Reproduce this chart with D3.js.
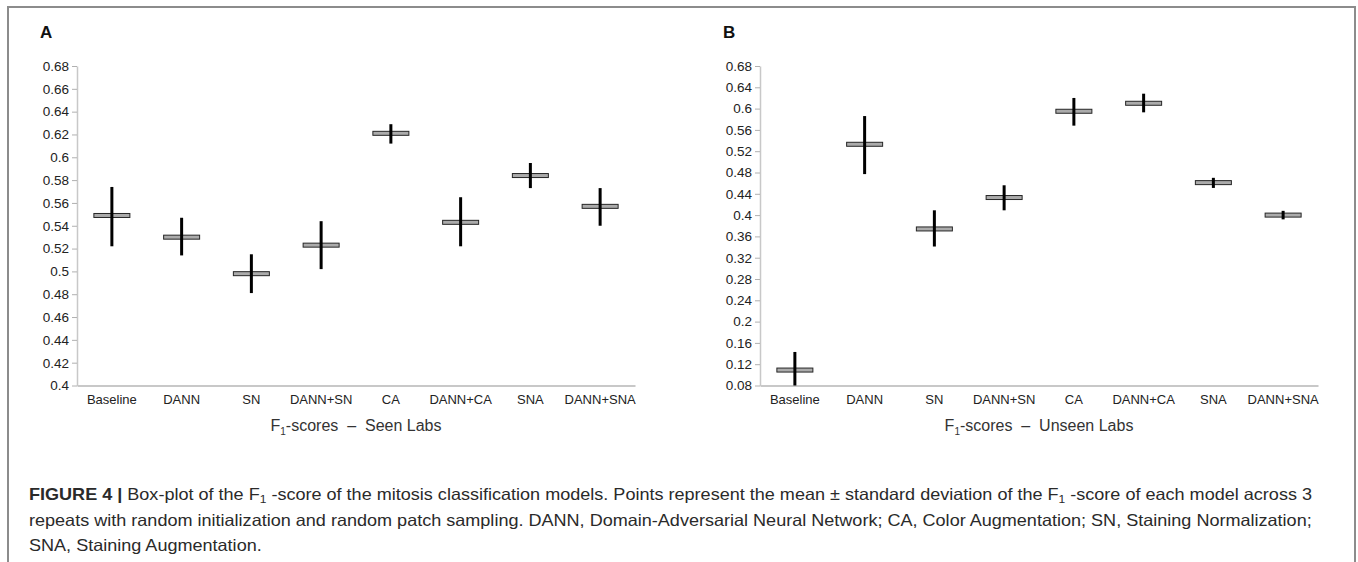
<!DOCTYPE html>
<html>
<head>
<meta charset="utf-8">
<script src="https://cdn.jsdelivr.net/npm/d3@7"></script>
<style>
  body { margin: 0; background: #fff; }
  svg { display: block; font-family: "Liberation Sans", Arial, sans-serif; }
</style>
</head>
<body>
<script>
// categories shared by both panels
const models = ["Baseline", "DANN", "SN", "DANN+SN", "CA", "DANN+CA", "SNA", "DANN+SNA"]

// panel A - seen labs (mean, mean-sd, mean+sd)
const seenMean = [0.549, 0.530, 0.498, 0.523, 0.621, 0.543, 0.584, 0.557]
const seenLow  = [0.522, 0.514, 0.481, 0.502, 0.612, 0.522, 0.573, 0.540]
const seenHigh = [0.574, 0.547, 0.515, 0.544, 0.629, 0.565, 0.595, 0.573]
const seenTicks = [0.4, 0.42, 0.44, 0.46, 0.48, 0.5, 0.52, 0.54, 0.56, 0.58, 0.6, 0.62, 0.64, 0.66, 0.68]

// panel B - unseen labs
const unseenMean = [0.109, 0.533, 0.374, 0.433, 0.595, 0.610, 0.461, 0.400]
const unseenLow  = [0.080, 0.477, 0.341, 0.409, 0.568, 0.593, 0.451, 0.392]
const unseenHigh = [0.143, 0.586, 0.409, 0.456, 0.620, 0.628, 0.470, 0.408]
const unseenTicks = [0.08, 0.12, 0.16, 0.2, 0.24, 0.28, 0.32, 0.36, 0.4, 0.44, 0.48, 0.52, 0.56, 0.6, 0.64, 0.68]

let svg = d3.select('body')
    .append('svg')
    .attr('width', 1358)
    .attr('height', 562)

// outer frame
svg.append('rect')
    .attr('x', 8)
    .attr('y', 7)
    .attr('width', 1347)
    .attr('height', 600)
    .style('fill', 'none')
    .style('stroke', '#8c8c8c')
    .style('stroke-width', 2)

function drawPanel(letter, left, right, yDomain, ticks, mean, low, high, labsText){
  let top = 66, bottom = 385.5
  let x = d3.scaleBand().domain(models).range([left, right])
  let y = d3.scaleLinear().domain(yDomain).range([bottom, top])
  let g = svg.append('g')

  g.append('text')
      .attr('x', left - 37)
      .attr('y', 38)
      .style('font-size', '17px')
      .style('font-weight', 'bold')
      .style('fill', '#111')
      .text(letter)

  // y axis
  let ya = g.append('g')
      .attr('transform', `translate(${left},0)`)
      .call(d3.axisLeft(y).tickValues(ticks).tickFormat(d3.format('~g')).tickSize(5).tickSizeOuter(0))
  ya.select('.domain').style('stroke', '#c8c8c8').style('stroke-width', 1.5)
  ya.selectAll('.tick line').style('stroke', '#b0b0b0')
  ya.selectAll('.tick text')
      .attr('x', -8)
      .style('font-size', '13.5px')
      .style('fill', '#222')
      .style('font-family', '"Liberation Sans", Arial, sans-serif')

  // x axis
  let xa = g.append('g')
      .attr('transform', `translate(0,${bottom})`)
      .call(d3.axisBottom(x).tickSize(0).tickSizeOuter(0))
  xa.select('.domain').style('stroke', '#c8c8c8').style('stroke-width', 2)
  xa.selectAll('.tick text')
      .attr('y', 9)
      .style('font-size', '13px')
      .style('fill', '#222')
      .style('font-family', '"Liberation Sans", Arial, sans-serif')

  // markers
  let idx = d3.range(models.length)
  let cx = i => x(models[i]) + x.bandwidth() / 2
  g.selectAll('rect.box')
      .data(idx)
      .join('rect')
      .attr('class', 'box')
      .attr('x', i => cx(i) - 18)
      .attr('y', i => y(mean[i]) - 2)
      .attr('width', 36)
      .attr('height', 4)
      .style('fill', '#ababab')
      .style('stroke', '#262626')
      .style('stroke-width', 1)
  g.selectAll('line.whisker')
      .data(idx)
      .join('line')
      .attr('class', 'whisker')
      .attr('x1', cx)
      .attr('x2', cx)
      .attr('y1', i => y(high[i]))
      .attr('y2', i => y(low[i]))
      .style('stroke', '#000')
      .style('stroke-width', 3)

  // axis title with subscript
  let t = g.append('text')
      .attr('x', (left + right) / 2)
      .attr('y', 431)
      .attr('text-anchor', 'middle')
      .style('font-size', '16px')
      .style('fill', '#333')
  t.append('tspan').text('F')
  t.append('tspan').attr('dy', 4).style('font-size', '10px').text('1')
  t.append('tspan').attr('dy', -4).text('-scores  \u2013  ' + labsText)
      .attr('xml:space', 'preserve')
      .style('white-space', 'pre')
}

drawPanel('A', 77, 635, [0.4, 0.68], seenTicks, seenMean, seenLow, seenHigh, 'Seen Labs')
drawPanel('B', 760, 1318, [0.08, 0.68], unseenTicks, unseenMean, unseenLow, unseenHigh, 'Unseen Labs')

// caption
let cap = svg.append('g')
    .style('font-family', '"Liberation Sans Narrow", "Liberation Sans", Arial, sans-serif')
    .style('font-size', '16.5px')
    .style('fill', '#2a2a2a')

let l1 = cap.append('text').attr('x', 29).attr('y', 500)
l1.append('tspan').style('font-weight', 'bold').text('FIGURE 4 | ')
l1.append('tspan').text('Box-plot of the F')
l1.append('tspan').attr('dy', 3).style('font-size', '11px').text('1')
l1.append('tspan').attr('dy', -3).text(' -score of the mitosis classification models. Points represent the mean \u00b1 standard deviation of the F')
l1.append('tspan').attr('dy', 3).style('font-size', '11px').text('1')
l1.append('tspan').attr('dy', -3).text(' -score of each model across 3')

let l2 = cap.append('text').attr('x', 29).attr('y', 526)
    .text('repeats with random initialization and random patch sampling. DANN, Domain-Adversarial Neural Network; CA, Color Augmentation; SN, Staining Normalization;')
let l3 = cap.append('text').attr('x', 29).attr('y', 551)
    .text('SNA, Staining Augmentation.')

// squeeze caption to match the condensed face of the figure
let k = 1283 / l1.node().getComputedTextLength()
;[l1, l2, l3].forEach(l => {
  let w = l.node().getComputedTextLength()
  l.attr('textLength', w * k).attr('lengthAdjust', 'spacingAndGlyphs')
})
</script>
</body>
</html>
